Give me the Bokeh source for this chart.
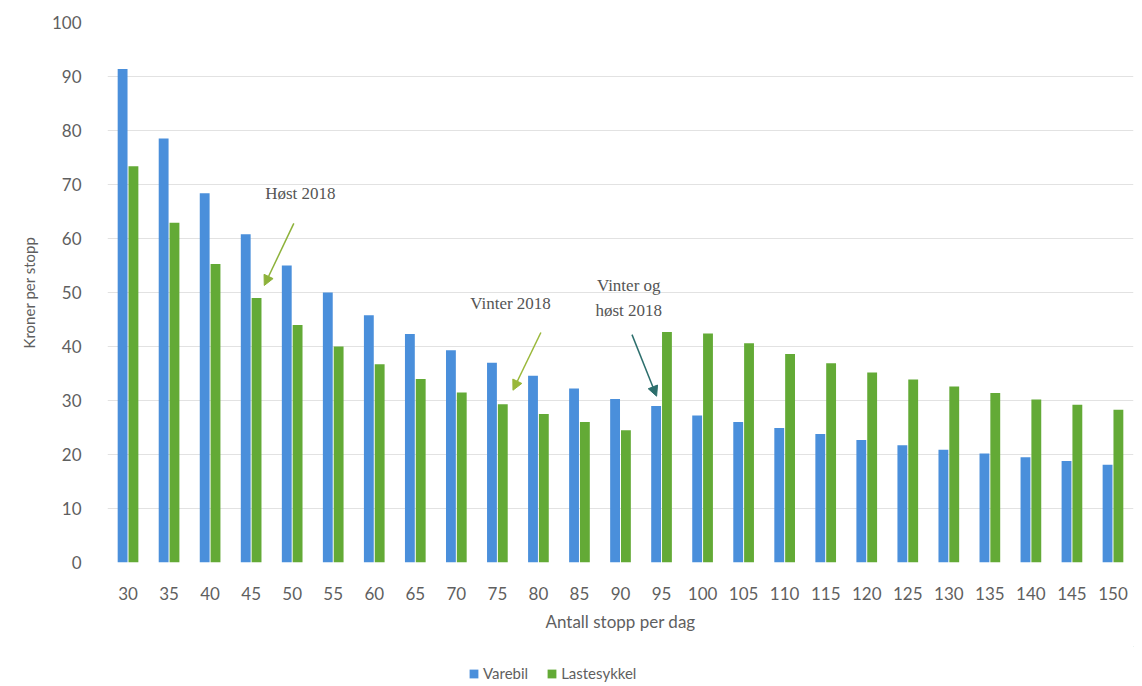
from bokeh.plotting import figure
from bokeh.layouts import column
from bokeh.models import (ColumnDataSource, FixedTicker, Range1d, Legend, LegendItem,
                          Label, Arrow, NormalHead)
from bokeh.transform import dodge
from bokeh.embed import file_html
from bokeh.resources import INLINE

stops = [30, 35, 40, 45, 50, 55, 60, 65, 70, 75, 80, 85, 90, 95, 100,
         105, 110, 115, 120, 125, 130, 135, 140, 145, 150]
varebil = [91.4, 78.5, 68.4, 60.8, 55.0, 50.0, 45.8, 42.3, 39.3, 37.0, 34.6, 32.2, 30.3, 29.0, 27.2,
           26.0, 24.9, 23.8, 22.7, 21.7, 20.9, 20.2, 19.5, 18.8, 18.1]
lastesykkel = [73.4, 62.9, 55.3, 49.0, 44.0, 40.0, 36.7, 34.0, 31.5, 29.3, 27.5, 26.0, 24.5, 42.7, 42.4,
               40.6, 38.6, 36.9, 35.2, 33.9, 32.6, 31.4, 30.2, 29.2, 28.3]
series_names = ["Varebil", "Lastesykkel"]
x_title = "Antall stopp per dag"
y_title = "Kroner per stopp"

BLUE = "#4a8fdb"
GREEN = "#63aa36"
TXT = "#5f5f5f"

src = ColumnDataSource(dict(x=stops, v=varebil, l=lastesykkel))

p = figure(width=1142, height=646, output_backend="svg", toolbar_location=None,
           x_range=Range1d(27.5, 152.5), y_range=Range1d(0, 100),
           min_border_left=107, min_border_right=9, min_border_top=22, min_border_bottom=84)
p.outline_line_color = None
p.background_fill_color = "white"
p.border_fill_color = "white"

r1 = p.vbar(x=dodge("x", -0.66, range=p.x_range), top="v", width=1.2, source=src,
            fill_color=BLUE, line_color=None)
r2 = p.vbar(x=dodge("x", 0.66, range=p.x_range), top="l", width=1.2, source=src,
            fill_color=GREEN, line_color=None)

p.xgrid.grid_line_color = None
p.ygrid.grid_line_color = "#e2e2e2"
p.ygrid.grid_line_width = 1
p.yaxis.ticker = FixedTicker(ticks=list(range(0, 101, 10)))
p.xaxis.ticker = FixedTicker(ticks=stops)

for ax in (p.xaxis[0], p.yaxis[0]):
    ax.axis_line_color = None
    ax.major_tick_line_color = None
    ax.minor_tick_line_color = None
    ax.major_label_text_color = TXT
    ax.major_label_text_font = "Lato"
    ax.axis_label_text_color = TXT
    ax.axis_label_text_font = "Lato"
    ax.axis_label_text_font_style = "normal"

p.xaxis.major_label_text_font_size = "17px"
p.yaxis.major_label_text_font_size = "17px"
p.xaxis.major_label_standoff = 18
p.yaxis.major_label_standoff = 20
p.xaxis.axis_label = x_title
p.xaxis.axis_label_text_font_size = "17px"
p.xaxis.axis_label_standoff = 8
p.yaxis.axis_label = y_title
p.yaxis.axis_label_text_font_size = "15px"
p.yaxis.axis_label_standoff = 11

# annotations
serif = "Liberation Serif"
ann_col = "#555555"
p.add_layout(Label(x=51.0, y=68.3, text="Høst 2018", text_font=serif, text_font_size="17px",
                   text_color=ann_col, text_align="center", text_baseline="middle"))
p.add_layout(Arrow(x_start=50.2, y_start=62.8, x_end=46.6, y_end=51.3,
                   line_color="#8db23a", line_width=1.5,
                   end=NormalHead(size=10, fill_color="#8db23a", line_color="#8db23a")))

p.add_layout(Label(x=76.6, y=48.0, text="Vinter 2018", text_font=serif, text_font_size="17px",
                   text_color=ann_col, text_align="center", text_baseline="middle"))
p.add_layout(Arrow(x_start=80.3, y_start=42.6, x_end=76.9, y_end=31.9,
                   line_color="#9ab83a", line_width=1.5,
                   end=NormalHead(size=10, fill_color="#9ab83a", line_color="#9ab83a")))

p.add_layout(Label(x=91.0, y=51.3, text="Vinter og", text_font=serif, text_font_size="17px",
                   text_color=ann_col, text_align="center", text_baseline="middle"))
p.add_layout(Label(x=91.0, y=46.6, text="høst 2018", text_font=serif, text_font_size="17px",
                   text_color=ann_col, text_align="center", text_baseline="middle"))
p.add_layout(Arrow(x_start=91.4, y_start=42.2, x_end=94.4, y_end=30.8,
                   line_color="#2c6e6c", line_width=1.5,
                   end=NormalHead(size=10, fill_color="#2c6e6c", line_color="#2c6e6c")))

# legend strip
pl = figure(width=1142, height=40, output_backend="svg", toolbar_location=None,
            x_range=Range1d(0, 1), y_range=Range1d(0, 1),
            x_axis_location=None, y_axis_location=None,
            min_border_left=0, min_border_right=0, min_border_top=0, min_border_bottom=0)
pl.outline_line_color = None
pl.grid.visible = False
pl.border_fill_color = "white"
lsrc = ColumnDataSource(dict(x=[10.0], t=[10.0]))
d1 = pl.vbar(x="x", top="t", bottom=9.0, width=0.1, source=lsrc, fill_color=BLUE, line_color=None)
d2 = pl.vbar(x="x", top="t", bottom=9.0, width=0.1, source=lsrc, fill_color=GREEN, line_color=None)
legend = Legend(items=[LegendItem(label=series_names[0], renderers=[d1], index=0),
                       LegendItem(label=series_names[1], renderers=[d2], index=0)],
                location=(361, 4), orientation="horizontal",
                border_line_color=None, background_fill_alpha=0,
                label_text_font="Lato", label_text_font_size="15px", label_text_color=TXT,
                glyph_width=11, glyph_height=11, spacing=18, label_standoff=4, padding=2, margin=0)
pl.add_layout(legend, "center")

layout = column(p, pl, spacing=0)
open("out.html", "w").write(file_html(layout, INLINE))
